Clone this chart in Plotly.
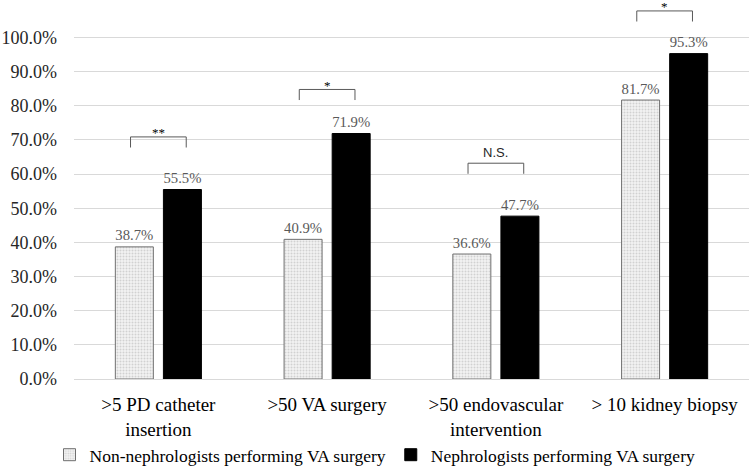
import plotly.graph_objects as go

categories = [">5 PD catheter<br>insertion", ">50 VA surgery", ">50 endovascular<br>intervention", "> 10 kidney biopsy"]
non_neph = [38.7, 40.9, 36.6, 81.7]
neph = [55.5, 71.9, 47.7, 95.3]
sig_labels = ["**", "*", "N.S.", "*"]
sig_heights = [70.9, 84.8, 63.2, 107.8]
tick_vals = [0, 10, 20, 30, 40, 50, 60, 70, 80, 90, 100]
tick_text = [f"{v:.1f}%" for v in tick_vals]

FONT = "Liberation Serif"
SANS = "Liberation Sans"
xs = list(range(len(categories)))

fig = go.Figure()
fig.add_trace(go.Bar(
    x=xs, y=non_neph, name="Non-nephrologists performing VA surgery",
    marker=dict(color="#eeeeee", line=dict(color="#6f6f6f", width=1),
                pattern=dict(shape=".", fgcolor="#b0b0b0", bgcolor="#f2f2f2", size=3, solidity=0.35)),
    text=[f"{v:.1f}%" for v in non_neph], textposition="outside",
    textfont=dict(family=FONT, size=17, color="#595959"), cliponaxis=False,
))
fig.add_trace(go.Bar(
    x=xs, y=neph, name="Nephrologists performing VA surgery",
    marker=dict(color="#000000", line=dict(color="#000000", width=1)),
    text=[f"{v:.1f}%" for v in neph], textposition="outside",
    textfont=dict(family=FONT, size=17, color="#595959"), cliponaxis=False,
))

off = 0.165
leg = 3.1
for i, (lab, h) in enumerate(zip(sig_labels, sig_heights)):
    fig.add_shape(type="path",
                  path=f"M {i-off},{h-leg} L {i-off},{h} L {i+off},{h} L {i+off},{h-leg}",
                  xref="x", yref="y", line=dict(color="#595959", width=1))
    if lab == "N.S.":
        fig.add_annotation(x=i, y=h, text=lab, showarrow=False, yanchor="bottom",
                           font=dict(family=SANS, size=13, color="#262626"), yshift=1)
    else:
        fig.add_annotation(x=i, y=h, text=lab, showarrow=False, yanchor="middle",
                           font=dict(family=FONT, size=13, color="#000000"), yshift=4)

fig.update_layout(
    width=750, height=466,
    margin=dict(l=74, r=1, t=0, b=87, autoexpand=False),
    plot_bgcolor="white", paper_bgcolor="white",
    barmode="group", bargap=0.43, bargroupgap=0.21,
    showlegend=True,
    legend=dict(orientation="h", xref="container", x=0.5, xanchor="center",
                yref="container", y=0.024, yanchor="middle",
                font=dict(family=FONT, size=17.5, color="#000000"), itemwidth=30,
                traceorder="normal"),
    xaxis=dict(tickmode="array", tickvals=xs, ticktext=categories, range=[-0.5, 3.5],
               showgrid=False, showline=True, linecolor="#d9d9d9", ticks="",
               ticklabelstandoff=8,
               tickfont=dict(family=FONT, size=19, color="#000000")),
    yaxis=dict(range=[0, 111], tickvals=tick_vals, ticktext=tick_text,
               showgrid=True, gridcolor="#d9d9d9", gridwidth=1, zeroline=False,
               showline=False, ticks="", ticklabelstandoff=16,
               tickfont=dict(family=FONT, size=18, color="#262626")),
)

fig.write_html("out.html", config={"displayModeBar": False},
               post_script="document.body.style.margin='0';")
